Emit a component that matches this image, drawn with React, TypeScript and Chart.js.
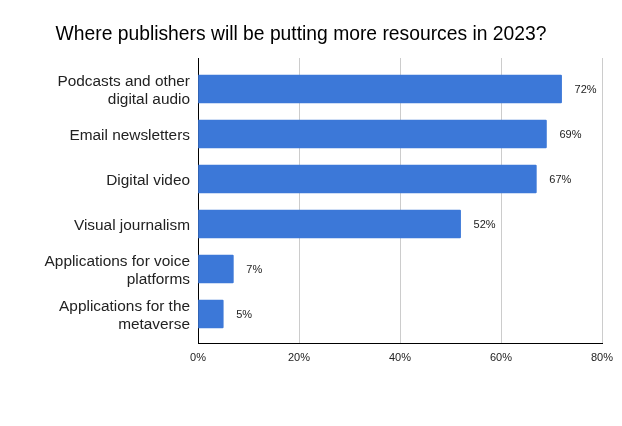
import React, { useEffect, useRef } from "react";
import { Chart, registerables } from "chart.js";

Chart.register(...registerables);

const TITLE = "Where publishers will be putting more resources in 2023?";
const categories: string[][] = [
  ["Podcasts and other", "digital audio"],
  ["Email newsletters"],
  ["Digital video"],
  ["Visual journalism"],
  ["Applications for voice", "platforms"],
  ["Applications for the", "metaverse"],
];
const values: number[] = [72, 69, 67, 52, 7, 5];
const xTicks: number[] = [0, 20, 40, 60, 80];

const FONT = "'Liberation Sans', Arial, sans-serif";

export default function App() {
  const ref = useRef<HTMLCanvasElement | null>(null);

  useEffect(() => {
    if (!ref.current) return;
    const labelPlugin = {
      id: "valueLabels",
      afterDatasetsDraw(chart: any) {
        const ctx = chart.ctx;
        const meta = chart.getDatasetMeta(0);
        ctx.save();
        ctx.font = `11px ${FONT}`;
        ctx.fillStyle = "#222222";
        ctx.textAlign = "left";
        ctx.textBaseline = "middle";
        meta.data.forEach((bar: any, i: number) => {
          ctx.fillText(values[i] + "%", bar.x + 13, bar.y + 1);
        });
        ctx.restore();
      },
    };

    const chart = new Chart(ref.current, {
      type: "bar",
      data: {
        datasets: [
          {
            data: values.map((v, i) => ({ x: v, y: i })),
            backgroundColor: "#3c78d8",
            borderWidth: 0,
            barThickness: 28,
            borderRadius: 1,
            borderSkipped: "start",
          },
        ],
      },
      options: {
        indexAxis: "y",
        animation: false,
        responsive: false,
        maintainAspectRatio: false,
        layout: { padding: { left: 0, right: 20, top: 0, bottom: 0 } },
        plugins: {
          legend: { display: false },
          tooltip: { enabled: false },
          title: {
            display: true,
            text: TITLE,
            color: "#000000",
            font: { family: FONT, size: 19.3, weight: "normal", lineHeight: 1.2 },
            padding: { top: 23, bottom: 11.84 },
          },
        },
        scales: {
          x: {
            type: "linear",
            min: 0,
            max: 80,
            afterBuildTicks: (scale: any) => {
              scale.ticks = xTicks.map((v) => ({ value: v }));
            },
            afterFit: (scale: any) => {
              scale.height = 83;
            },
            grid: { color: "#cccccc", drawTicks: false, lineWidth: 1 },
            border: { display: true, color: "#000000", width: 1 },
            ticks: {
              padding: 8,
              color: "#222222",
              font: { family: FONT, size: 11 },
              callback: (v: any) => v + "%",
            },
          },
          y: {
            type: "linear",
            reverse: true,
            offset: false,
            grace: 0,
            min: -0.689,
            max: 5.644,
            afterBuildTicks: (scale: any) => {
              scale.ticks = categories.map((_, i) => ({ value: i }));
            },
            afterFit: (scale: any) => {
              scale.width = 198;
            },
            grid: { display: false, drawTicks: false, offset: false },
            border: { display: true, color: "#000000", width: 1 },
            ticks: {
              padding: 8,
              labelOffset: 1.5,
              color: "#222222",
              font: { family: FONT, size: 15.4, lineHeight: 1.18 },
              callback: (v: any) => categories[v] ?? "",
            },
          },
        },
      },
      plugins: [labelPlugin],
    } as any);
    return () => chart.destroy();
  }, []);

  return (
    <div style={{ position: "fixed", left: 0, top: 0, width: 622, height: 426, background: "#ffffff" }}>
      <canvas ref={ref} width={622} height={426} style={{ width: 622, height: 426 }} />
    </div>
  );
}
